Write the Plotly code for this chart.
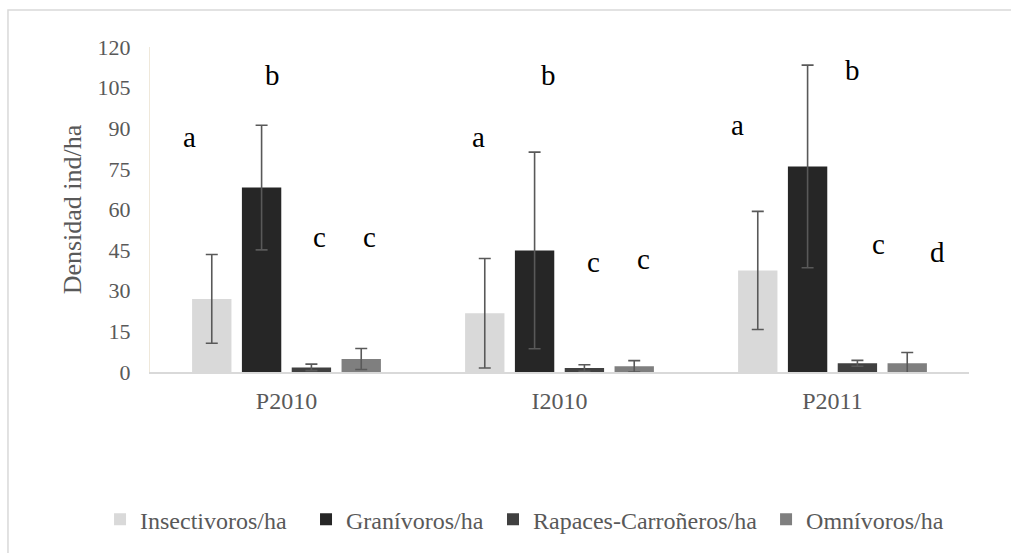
import plotly.graph_objects as go

categories = ["P2010", "I2010", "P2011"]
series_names = ["Insectivoros/ha", "Granívoros/ha", "Rapaces-Carroñeros/ha", "Omnívoros/ha"]
colors = ["#d9d9d9", "#262626", "#404040", "#7f7f7f"]

insectivoros = [27.0, 21.7, 37.5]
granivoros = [68.1, 44.9, 75.9]
rapaces = [1.7, 1.5, 3.2]
omnivoros = [4.8, 2.1, 3.2]

insectivoros_err = [16.4, 20.2, 21.8]
granivoros_err = [23.0, 36.3, 37.4]
rapaces_err = [1.2, 1.2, 1.1]
omnivoros_err = [3.9, 2.1, 4.0]

# significance letters, with their heights (data units) and horizontal offsets (px)
letters_insect = ["a", "a", "a"]
letters_gran = ["b", "b", "b"]
letters_rap = ["c", "c", "c"]
letters_omni = ["c", "c", "d"]
letter_y_insect = [86.9, 86.9, 91.3]
letter_y_gran = [109.7, 109.7, 111.5]
letter_y_rap = [49.7, 40.5, 47.1]
letter_y_omni = [49.7, 41.6, 44.2]
letter_dx_insect = [-97, -81, -95]
letter_dx_gran = [-14, -11, 20]
letter_dx_rap = [33, 34, 46]
letter_dx_omni = [83, 84, 105]

values = [insectivoros, granivoros, rapaces, omnivoros]
errors = [insectivoros_err, granivoros_err, rapaces_err, omnivoros_err]
legend_ids = ["legend", "legend2", "legend3", "legend4"]

FONT = "Times New Roman, Liberation Serif, serif"

fig = go.Figure()
for name, vals, errs, col, lg in zip(series_names, values, errors, colors, legend_ids):
    fig.add_trace(go.Bar(
        x=categories, y=vals, name=name, showlegend=True,
        marker=dict(color=col, line=dict(width=0)),
        error_y=dict(type="data", array=errs, visible=True,
                     color="#595959", thickness=1.6, width=6),
        legend=lg,
    ))

letter_sets = [
    (letters_insect, letter_y_insect, letter_dx_insect),
    (letters_gran, letter_y_gran, letter_dx_gran),
    (letters_rap, letter_y_rap, letter_dx_rap),
    (letters_omni, letter_y_omni, letter_dx_omni),
]
for labs, ys, dxs in letter_sets:
    for cat, lab, yv, dx in zip(categories, labs, ys, dxs):
        fig.add_annotation(x=cat, y=yv, text=lab, showarrow=False,
                           xshift=dx, xref="x", yref="y",
                           font=dict(family=FONT, size=29, color="#000000"))

leg_common = dict(orientation="h", yanchor="middle", y=-0.45, xanchor="left",
                  font=dict(family=FONT, size=24, color="#595959"),
                  bgcolor="rgba(0,0,0,0)", itemclick=False, visible=True)
legend_x = [-0.061, 0.1905, 0.4188, 0.7522]

fig.update_layout(
    width=1011, height=553,
    margin=dict(l=150, r=42, t=47, b=180),
    paper_bgcolor="white", plot_bgcolor="white",
    showlegend=True,
    barmode="group", bargap=0.27, bargroupgap=0.21,
    legend=dict(**leg_common, x=legend_x[0]),
    legend2=dict(**leg_common, x=legend_x[1]),
    legend3=dict(**leg_common, x=legend_x[2]),
    legend4=dict(**leg_common, x=legend_x[3]),
    xaxis=dict(showline=True, linecolor="#d9d9d9", linewidth=1.5,
               showgrid=False, ticks="", ticklabelstandoff=6,
               tickfont=dict(family=FONT, size=24, color="#595959")),
    yaxis=dict(range=[0, 120], tickvals=list(range(0, 121, 15)),
               showgrid=False, zeroline=False, showline=True,
               linecolor="#efe8da", linewidth=1,
               ticks="", ticklabelstandoff=14,
               tickfont=dict(family=FONT, size=22, color="#595959")),
    shapes=[dict(type="rect", xref="paper", yref="paper",
                 x0=-0.1734, x1=1.2, y0=-0.7, y1=1.1135,
                 line=dict(color="#d9d9d9", width=1.5), layer="below")],
)
fig.update_yaxes(title=dict(text="Densidad ind/ha", standoff=8,
                            font=dict(family=FONT, size=26, color="#595959")))

fig.write_html("out.html")
